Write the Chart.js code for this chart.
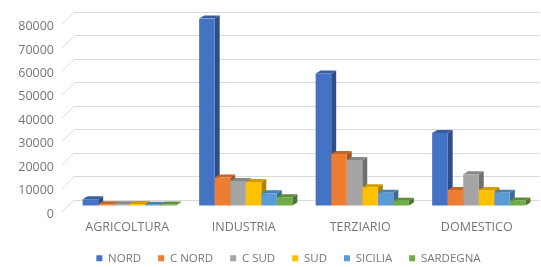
<!DOCTYPE html>
<html>
<head>
<meta charset="utf-8">
<script src="https://cdn.jsdelivr.net/npm/chart.js@4.4.1/dist/chart.umd.min.js"></script>
<style>
  html, body { margin: 0; padding: 0; background: #fff; overflow: hidden; }
  #wrap { position: relative; width: 541px; height: 267px; }
</style>
</head>
<body>
<div id="wrap"><canvas id="consumiChart"></canvas></div>
<script>
// data
var categories = ['AGRICOLTURA', 'INDUSTRIA', 'TERZIARIO', 'DOMESTICO'];
var nord     = [2900, 80000, 56500, 31200];
var cNord    = [800, 12200, 22200, 6800];
var cSud     = [700, 10700, 19600, 13600];
var sud      = [900, 10200, 8000, 6800];
var sicilia  = [500, 5400, 5700, 5700];
var sardegna = [600, 3700, 2200, 2300];
var yTicks   = [0, 10000, 20000, 30000, 40000, 50000, 60000, 70000, 80000];

var textGray = '#767676';
var gridGray = '#dadada';

Chart.defaults.font.family = "'Open Sans', sans-serif";

function shade(hex, f) {
  var n = parseInt(hex.slice(1), 16);
  var r = Math.round(((n >> 16) & 255) * f);
  var g = Math.round(((n >> 8) & 255) * f);
  var b = Math.round((n & 255) * f);
  return 'rgb(' + r + ',' + g + ',' + b + ')';
}

// fake 3D: side + top faces, bars pushed forward from the back wall
var dx = 5, dy = -3;
var threeD = {
  id: 'threeD',
  afterLayout: function(chart) {
    // legend sits a bit right of the canvas centre
    chart.legend.left += 37;
  },
  beforeDatasetsDraw: function(chart) {
    var ctx = chart.ctx;
    var area = chart.chartArea;
    var ys = chart.scales.y;
    // left wall slants
    ctx.save();
    ctx.strokeStyle = gridGray;
    ctx.lineWidth = 1;
    ys.ticks.forEach(function(t, i) {
      var y = ys.getPixelForTick(i);
      ctx.beginPath();
      ctx.moveTo(area.left, y);
      ctx.lineTo(area.left - 12, y + 12);
      ctx.stroke();
    });
    ctx.restore();

    ctx.save();
    ctx.translate(-3, 6);
    chart.data.datasets.forEach(function(ds, di) {
      var meta = chart.getDatasetMeta(di);
      meta.data.forEach(function(bar) {
        var p = bar.getProps(['x', 'y', 'base', 'width'], true);
        var l = p.x - p.width / 2, r = p.x + p.width / 2;
        ctx.fillStyle = shade(ds.backgroundColor, 0.68);
        ctx.beginPath();
        ctx.moveTo(r, p.y);
        ctx.lineTo(r + dx, p.y + dy);
        ctx.lineTo(r + dx, p.base + dy);
        ctx.lineTo(r, p.base);
        ctx.closePath();
        ctx.fill();
        ctx.fillStyle = shade(ds.backgroundColor, 0.82);
        ctx.beginPath();
        ctx.moveTo(l, p.y);
        ctx.lineTo(l + dx, p.y + dy);
        ctx.lineTo(r + dx, p.y + dy);
        ctx.lineTo(r, p.y);
        ctx.closePath();
        ctx.fill();
      });
    });
  },
  afterDatasetsDraw: function(chart) {
    chart.ctx.restore();
  }
};

function series(label, values, color) {
  return {
    label: label,
    data: values,
    backgroundColor: color,
    borderWidth: 0,
    barPercentage: 1.0,
    categoryPercentage: 0.8
  };
}

new Chart(document.getElementById('consumiChart'), {
  type: 'bar',
  data: {
    labels: categories,
    datasets: [
      series('NORD', nord, '#4472C4'),
      series('C NORD', cNord, '#ED7D31'),
      series('C SUD', cSud, '#A5A5A5'),
      series('SUD', sud, '#FFC000'),
      series('SICILIA', sicilia, '#5B9BD5'),
      series('SARDEGNA', sardegna, '#70AD47')
    ]
  },
  options: {
    responsive: true,
    maintainAspectRatio: false,
    animation: false,
    layout: { padding: { left: 0, right: 1, top: 12.5, bottom: -7 } },
    plugins: {
      tooltip: { enabled: false },
      legend: {
        position: 'bottom',
        labels: {
          boxWidth: 6,
          boxHeight: 6,
          padding: 17,
          color: textGray,
          font: { size: 11.5 }
        }
      }
    },
    scales: {
      x: {
        grid: { display: false, drawTicks: false },
        border: { display: false },
        ticks: { color: textGray, font: { size: 12.5 }, padding: 20, labelOffset: -5 },
        afterFit: function(s) { s.height = 35.5; }
      },
      y: {
        min: 0,
        max: 80000,
        grid: { color: gridGray, drawTicks: true, tickLength: 16, tickColor: 'rgba(0,0,0,0)' },
        border: { display: false },
        afterBuildTicks: function(s) { s.ticks = yTicks.map(function(v) { return { value: v }; }); },
        ticks: {
          color: textGray,
          font: { size: 12.5 },
          padding: 4,
          labelOffset: 14,
          callback: function(v) { return String(v); }
        },
        afterFit: function(s) { s.width = 74; }
      }
    }
  },
  plugins: [threeD]
});
</script>
</body>
</html>
